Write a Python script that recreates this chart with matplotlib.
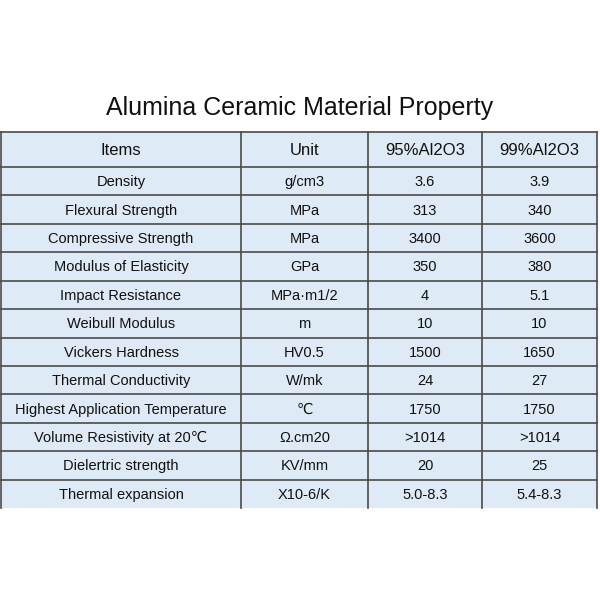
import matplotlib
matplotlib.use("Agg")
import matplotlib.pyplot as plt

title = "Alumina Ceramic Material Property"
headers = ["Items", "Unit", "95%Al2O3", "99%Al2O3"]
items = ["Density", "Flexural Strength", "Compressive Strength", "Modulus of Elasticity",
         "Impact Resistance", "Weibull Modulus", "Vickers Hardness", "Thermal Conductivity",
         "Highest Application Temperature", "Volume Resistivity at 20℃", "Dielertric strength",
         "Thermal expansion"]
units = ["g/cm3", "MPa", "MPa", "GPa", "MPa·m1/2", "m", "HV0.5", "W/mk", "℃", "Ω.cm20",
         "KV/mm", "X10-6/K"]
al95 = ["3.6", "313", "3400", "350", "4", "10", "1500", "24", "1750", ">1014", "20", "5.0-8.3"]
al99 = ["3.9", "340", "3600", "380", "5.1", "10", "1650", "27", "1750", ">1014", "25", "5.4-8.3"]

plt.rcParams['font.family'] = ['Liberation Sans', 'DejaVu Sans', 'Noto Sans CJK SC']
fig = plt.figure(figsize=(6, 6), dpi=100)
ax = fig.add_axes([0, 0, 1, 1])
ax.set_xlim(0, 600); ax.set_ylim(600, 0); ax.axis('off')

xs = [1, 241, 368, 482, 597]
top, hbot, bot = 132, 167, 508
rh = (bot - hbot) / len(items)
bg = "#deeaf6"; lc = "#4a4a4a"
ax.add_patch(plt.Rectangle((xs[0], top), xs[-1] - xs[0], bot - top, color=bg, lw=0))
ax.text(300, 108, title, ha='center', va='center', fontsize=18, color='#111')
# grid
ax.plot([xs[0], xs[-1]], [top, top], color=lc, lw=1.2)
ax.plot([xs[0], xs[-1]], [hbot, hbot], color=lc, lw=1.2)
for i in range(1, len(items)):
    y = hbot + i * rh
    ax.plot([xs[0], xs[-1]], [y, y], color=lc, lw=1.2)
for x in xs:
    ax.plot([x, x], [top, bot], color=lc, lw=1.2)
cx = [(xs[i] + xs[i + 1]) / 2 for i in range(4)]
for j, h in enumerate(headers):
    ax.text(cx[j], (top + hbot) / 2 + 1, h, ha='center', va='center', fontsize=12, color='#111')
cols = [items, units, al95, al99]
for i in range(len(items)):
    y = hbot + (i + 0.5) * rh + 1
    for j in range(4):
        ax.text(cx[j], y, cols[j][i], ha='center', va='center', fontsize=10.5, color='#111')
fig.savefig("out.png", dpi=100, facecolor='white')
